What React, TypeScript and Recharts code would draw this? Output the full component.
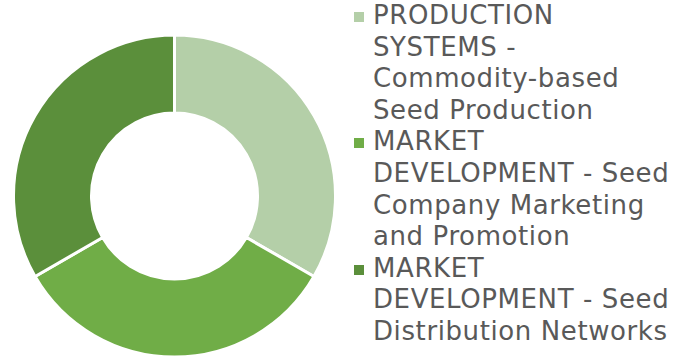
import React from 'react';
import { PieChart, Pie, Cell, Legend } from 'recharts';

const categories = [
  'PRODUCTION SYSTEMS - Commodity-based Seed Production',
  'MARKET DEVELOPMENT - Seed Company Marketing and Promotion',
  'MARKET DEVELOPMENT - Seed Distribution Networks',
];
const shares = [1, 1, 1];
const sliceColors = ['#b4cfa8', '#70ad47', '#5b8f3b'];

const data = categories.map((name, i) => ({ name, value: shares[i] }));

const renderLegend = () => (
  <div
    style={{
      fontFamily: '"DejaVu Sans", Verdana, sans-serif',
      fontSize: 26,
      letterSpacing: 0.6,
      lineHeight: '31.6px',
      color: '#595959',
    }}
  >
    {categories.map((name, i) => (
      <div key={name} style={{ display: 'flex', alignItems: 'flex-start' }}>
        <span
          style={{
            display: 'inline-block',
            width: 10,
            height: 10,
            background: sliceColors[i],
            marginTop: 12,
            marginRight: 9,
            flex: 'none',
          }}
        />
        <span style={{ width: 305 }}>{name}</span>
      </div>
    ))}
  </div>
);

export default function App() {
  return (
    <div>
      <style>{`body{margin:0}`}</style>
      <PieChart width={674} height={358} margin={{ top: 0, right: 0, bottom: 0, left: 0 }}>
        <Pie
          data={data}
          dataKey="value"
          cx={174.5}
          cy={196}
          innerRadius={83}
          outerRadius={161}
          startAngle={90}
          endAngle={-270}
          stroke="#ffffff"
          strokeWidth={3}
          isAnimationActive={false}
        >
          {data.map((entry, i) => (
            <Cell key={`cell-${i}`} fill={sliceColors[i]} />
          ))}
        </Pie>
        <Legend
          layout="vertical"
          verticalAlign="top"
          align="right"
          content={renderLegend}
          wrapperStyle={{ left: 354, top: 0, width: 320 }}
        />
      </PieChart>
    </div>
  );
}
